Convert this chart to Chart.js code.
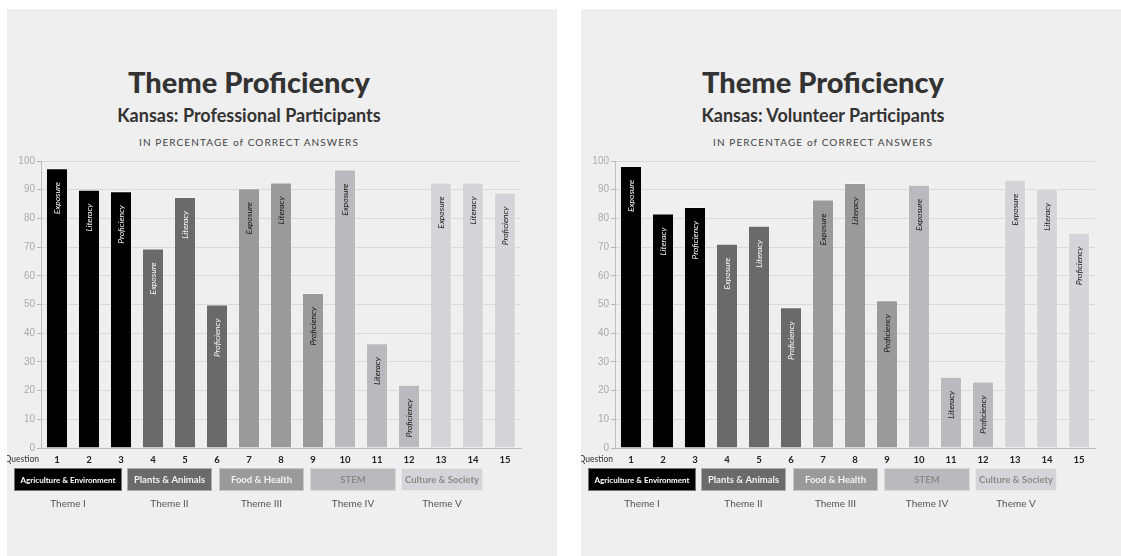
<!DOCTYPE html>
<html>
<head>
<meta charset="utf-8">
<script src="https://cdn.jsdelivr.net/npm/chart.js@4.4.1/dist/chart.umd.min.js"></script>
<style>
  body { margin: 0; background: #fff; overflow: hidden; width: 1121px; height: 556px; position: relative; font-family: Lato, "Noto Sans", sans-serif; }
  .panel { position: absolute; top: 9px; height: 547px; background: #efefef; overflow: hidden; }
  .panel canvas { position: absolute; left: 0; top: 0; }
  .ttl { position: absolute; left: 0; width: 484px; text-align: center; color: #333; white-space: nowrap; line-height: 1; }
  .t1 { top: 58px; font-size: 29px; font-weight: 900; }
  .t2 { top: 97px; font-size: 18px; font-weight: 700; }
  .t3 { top: 128px; font-size: 10px; letter-spacing: 1.1px; color: #444; }
</style>
</head>
<body>
<div class="panel" style="left:7px;width:550px">
  <div class="ttl t1">Theme Proficiency</div>
  <div class="ttl t2">Kansas: Professional Participants</div>
  <div class="ttl t3">IN PERCENTAGE of CORRECT ANSWERS</div>
  <canvas id="proChart" width="550" height="547"></canvas>
</div>
<div class="panel" style="left:581px;width:540px">
  <div class="ttl t1">Theme Proficiency</div>
  <div class="ttl t2">Kansas: Volunteer Participants</div>
  <div class="ttl t3">IN PERCENTAGE of CORRECT ANSWERS</div>
  <canvas id="volChart" width="550" height="547"></canvas>
</div>
<script>
const questions = ['1', '2', '3', '4', '5', '6', '7', '8', '9', '10', '11', '12', '13', '14', '15'];
const aspects = ['Exposure', 'Literacy', 'Proficiency'];
const professional = [97.5, 90, 89.5, 69.5, 87.5, 50, 90.5, 92.5, 54, 97, 36.5, 22, 92.5, 92.5, 89];
const volunteer = [98.3, 81.7, 84, 71.2, 77.4, 49, 86.6, 92.3, 51.5, 91.7, 24.8, 23.2, 93.5, 90.3, 75];
const themes = ['Agriculture & Environment', 'Plants & Animals', 'Food & Health', 'STEM', 'Culture & Society'];
const themeNumbers = ['Theme I', 'Theme II', 'Theme III', 'Theme IV', 'Theme V'];
const yTicks = [0, 10, 20, 30, 40, 50, 60, 70, 80, 90, 100];

const themeColors = ['#000000', '#6a6a6a', '#9a9a9a', '#bababe', '#d5d5d9'];
const themeTextColors = ['#ffffff', '#f2f2f2', '#f4f4f4', '#8a8a8a', '#8a8a8a'];
// theme box spans, pixels from the y axis
const boxSpans = [[-27, 81], [86, 171], [178, 263], [269, 355], [360, 442]];

function themeOf(i) { return Math.floor(i / 3); }

const extrasPlugin = {
    id: 'extras',
    afterDatasetsDraw(chart) {
        const ctx = chart.ctx;
        const meta = chart.getDatasetMeta(0);
        ctx.save();
        ctx.font = 'italic 8.5px Lato';
        ctx.textAlign = 'right';
        ctx.textBaseline = 'middle';
        meta.data.forEach((bar, i) => {
            ctx.save();
            ctx.translate(bar.x, bar.y + 14);
            ctx.rotate(-Math.PI / 2);
            ctx.fillStyle = themeOf(i) < 2 ? '#ffffff' : '#111111';
            ctx.fillText(aspects[i % 3], 0, 0);
            ctx.restore();
        });
        ctx.restore();
    },
    afterDraw(chart) {
        const ctx = chart.ctx;
        const area = chart.chartArea;
        ctx.save();
        // "Question" axis caption
        ctx.font = '8.5px Lato';
        ctx.fillStyle = '#333';
        ctx.textAlign = 'right';
        ctx.textBaseline = 'middle';
        ctx.fillText('Question', area.left - 2, area.bottom + 11);
        // theme boxes
        const top = area.bottom + 20;
        const h = 23;
        themes.forEach((name, i) => {
            const x0 = area.left + boxSpans[i][0];
            const x1 = area.left + boxSpans[i][1];
            ctx.fillStyle = themeColors[i];
            ctx.fillRect(x0, top, x1 - x0, h);
            ctx.strokeStyle = 'rgba(255,255,255,0.45)';
            ctx.lineWidth = 1;
            ctx.strokeRect(x0 + 0.5, top + 0.5, x1 - x0 - 1, h - 1);
            ctx.fillStyle = themeTextColors[i];
            ctx.font = (i === 0 ? 'bold 8px' : 'bold 9.5px') + ' Lato';
            ctx.textAlign = 'center';
            ctx.fillText(name, (x0 + x1) / 2, top + h / 2 + 0.5);
            ctx.fillStyle = '#555';
            ctx.font = '10px Lato';
            ctx.fillText(themeNumbers[i], (x0 + x1) / 2, top + h + 13);
        });
        ctx.restore();
    }
};

function makeChart(id, values) {
    return new Chart(document.getElementById(id), {
        type: 'bar',
        data: {
            labels: questions,
            datasets: [{
                data: values,
                backgroundColor: questions.map((q, i) => themeColors[themeOf(i)]),
                borderColor: 'rgba(255,255,255,0.4)',
                borderWidth: 1,
                categoryPercentage: 1,
                barPercentage: 0.69
            }]
        },
        options: {
            responsive: false,
            animation: false,
            layout: { padding: { top: 152, left: 0, right: 36, bottom: 0 } },
            plugins: { legend: { display: false }, tooltip: { enabled: false } },
            scales: {
                x: {
                    grid: { display: false, drawTicks: false },
                    border: { color: '#bdbdbd' },
                    ticks: { color: '#222', font: { family: 'Lato', size: 9.5, weight: 'bold' }, padding: 6, maxRotation: 0 },
                    afterFit(scale) { scale.height = 108; }
                },
                y: {
                    min: 0,
                    max: 100,
                    afterBuildTicks(scale) { scale.ticks = yTicks.map(v => ({ value: v })); },
                    grid: { color: '#d9d9d9', tickLength: 4, tickColor: '#b5b5b5' },
                    border: { color: '#bdbdbd' },
                    ticks: { color: '#aaaaaa', font: { family: 'Liberation Sans', size: 10 }, padding: 2 },
                    afterFit(scale) { scale.width = 34; }
                }
            }
        },
        plugins: [extrasPlugin]
    });
}

makeChart('proChart', professional);
makeChart('volChart', volunteer);
</script>
</body>
</html>
